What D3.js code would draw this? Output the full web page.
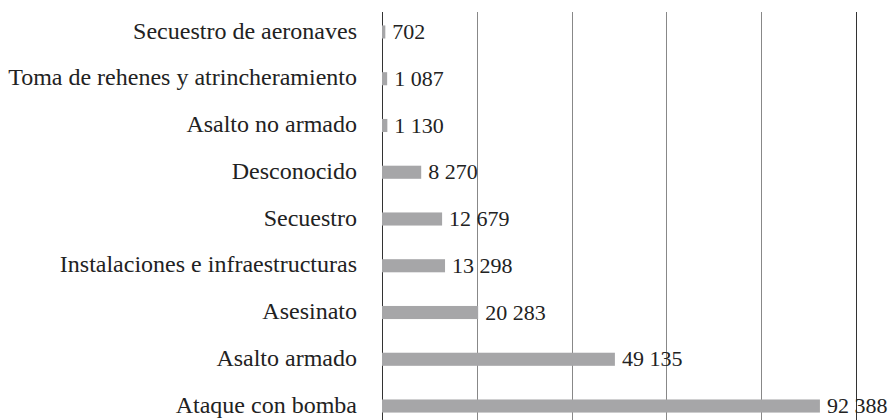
<!DOCTYPE html>
<html>
<head>
<meta charset="utf-8">
<script src="https://cdn.jsdelivr.net/npm/d3@7"></script>
<style>
  body { margin: 0; background: #fff; }
  text { font-family: "Liberation Serif", "Times New Roman", serif; fill: #222; }
</style>
</head>
<body>
<svg width="889" height="420"></svg>
<script>
// categories from top to bottom
const categories = [
  "Secuestro de aeronaves",
  "Toma de rehenes y atrincheramiento",
  "Asalto no armado",
  "Desconocido",
  "Secuestro",
  "Instalaciones e infraestructuras",
  "Asesinato",
  "Asalto armado",
  "Ataque con bomba"
];
const values = [702, 1087, 1130, 8270, 12679, 13298, 20283, 49135, 92388];
const gridTicks = [0, 20000, 40000, 60000, 80000, 100000];

const svg = d3.select("svg");

// x scale, the bars start at the axis line
const x = d3.scaleLinear().domain([0, 100000]).range([382, 856]);
const y = d3.scaleBand().domain(categories).range([8.6, 429.4]).paddingInner(0.72).paddingOuter(0.36);

const fmt = d3.formatLocale({ decimal: ",", thousands: " ", grouping: [3], currency: ["", ""] }).format(",d");

// vertical grid lines
svg.append("g")
  .selectAll("line")
  .data(gridTicks)
  .enter()
  .append("line")
  .attr("x1", (d) => Math.round(x(d)) + 0.5)
  .attr("x2", (d) => Math.round(x(d)) + 0.5)
  .attr("y1", 12)
  .attr("y2", 420)
  .attr("stroke", (d, i) => (i === 0 || i === gridTicks.length - 1 ? "#333" : "#888"))
  .attr("stroke-width", 1);

// bars
svg.append("g")
  .selectAll("rect")
  .data(values)
  .enter()
  .append("rect")
  .attr("x", x(0))
  .attr("y", (d, i) => y(categories[i]))
  .attr("width", (d) => x(d) - x(0))
  .attr("height", y.bandwidth())
  .attr("fill", "#a6a6a8");

// value labels
svg.append("g")
  .selectAll("text")
  .data(values)
  .enter()
  .append("text")
  .attr("x", (d) => x(d) + 7)
  .attr("y", (d, i) => y(categories[i]) + y.bandwidth() / 2)
  .attr("dy", "0.32em")
  .style("font-size", "22px")
  .text((d) => fmt(d));

// category labels
svg.append("g")
  .selectAll("text")
  .data(categories)
  .enter()
  .append("text")
  .attr("x", 357)
  .attr("y", (d) => y(d) + y.bandwidth() / 2)
  .attr("dy", "0.28em")
  .attr("text-anchor", "end")
  .style("font-size", "24px")
  .text((d) => d);
</script>
</body>
</html>
